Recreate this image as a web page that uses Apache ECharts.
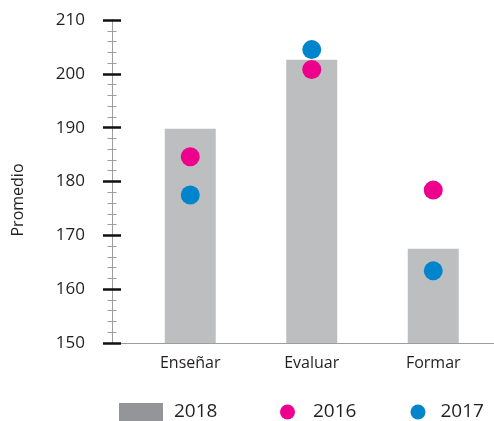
<!DOCTYPE html>
<html>
<head>
<meta charset="UTF-8">
<title>Promedio</title>
<script src="https://cdn.jsdelivr.net/npm/echarts@6/dist/echarts.min.js"></script>
<style>
  html, body { margin: 0; padding: 0; background: #fff; }
</style>
</head>
<body>
<div id="main" style="width: 494px; height: 421px;"></div>
<script>
const categories = ['Enseñar', 'Evaluar', 'Formar'];
const values2018 = [189.8, 202.6, 167.5];
const values2016 = [184.6, 200.8, 178.4];
const values2017 = [177.5, 204.5, 163.4];

const FONT = 'Open Sans';
const TEXT = '#231f20';

const chart = echarts.init(document.getElementById('main'));

// two overlapping y axes so ticks cross the axis line on both sides
function yAxisDef(inside, withLabels) {
  return {
    type: 'value',
    min: 150,
    max: 210,
    interval: 10,
    offset: 17.5,
    position: 'left',
    name: withLabels ? 'Promedio' : '',
    nameLocation: 'middle',
    nameGap: 86,
    nameTextStyle: { fontFamily: FONT, fontSize: 16, color: TEXT, padding: [0, 37, 0, 0] },
    axisLine: { show: true, lineStyle: { color: '#9d9d9d', width: 1 } },
    axisTick: { show: true, inside: inside, length: 9, lineStyle: { color: '#111', width: 2.5 } },
    minorTick: { show: true, splitNumber: 5, length: 4.5, lineStyle: { color: '#9d9d9d', width: 1 } },
    splitLine: { show: false },
    axisLabel: {
      show: withLabels,
      margin: 27,
      fontFamily: FONT,
      fontSize: 17,
      color: TEXT
    }
  };
}

function legendDef(left, name, icon, w, h, color, pad) {
  return {
    left: left,
    top: 402,
    padding: 0,
    icon: icon,
    itemWidth: w,
    itemHeight: h,
    selectedMode: false,
    data: [{ name: name, itemStyle: { color: color } }],
    textStyle: { fontFamily: FONT, fontSize: 19, color: TEXT, lineHeight: 20, padding: [0, 0, 0, pad] }
  };
}

const option = {
  animation: false,
  grid: { left: 129.5, right: 0, top: 20, bottom: 78 },
  xAxis: {
    type: 'category',
    data: categories,
    axisLine: { lineStyle: { color: '#9d9d9d', width: 1 } },
    axisTick: { show: false },
    axisLabel: { margin: 12, fontFamily: FONT, fontSize: 16, color: TEXT }
  },
  yAxis: [yAxisDef(false, true), yAxisDef(true, false)],
  legend: [
    legendDef(119, '2018', 'rect', 44, 18, '#939598', 6),
    legendDef(280, '2016', 'circle', 15, 15, '#ec008c', 13),
    legendDef(410.5, '2017', 'circle', 15, 15, '#0085cc', 10)
  ],
  graphic: [{
    type: 'line',
    shape: { x1: 112, y1: 343.5, x2: 130, y2: 343.5 },
    style: { stroke: '#9d9d9d', lineWidth: 1 }
  }],
  series: [
    {
      name: '2018',
      type: 'bar',
      data: values2018,
      barWidth: 51,
      itemStyle: { color: '#bdbec0' }
    },
    {
      name: '2016',
      type: 'scatter',
      data: values2016,
      symbolSize: 19,
      itemStyle: { color: '#ec008c', opacity: 1 },
      z: 3
    },
    {
      name: '2017',
      type: 'scatter',
      data: values2017,
      symbolSize: 19,
      itemStyle: { color: '#0085cc', opacity: 1 },
      z: 3
    }
  ]
};

chart.setOption(option);
</script>
</body>
</html>
